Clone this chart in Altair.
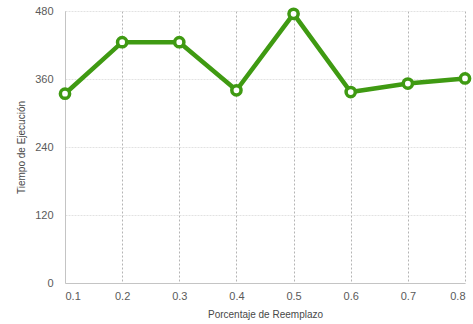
import altair as alt
import pandas as pd

porcentaje = [0.1, 0.2, 0.3, 0.4, 0.5, 0.6, 0.7, 0.8]
tiempo = [334, 425, 425, 340, 475, 337, 352, 361]

df = pd.DataFrame({"Porcentaje": porcentaje, "Tiempo": tiempo})

green = "#3f9a12"
font = "Liberation Sans"

x = alt.X(
    "Porcentaje:Q",
    scale=alt.Scale(domain=[0.1, 0.8], nice=False, zero=False),
    axis=alt.Axis(
        title="Porcentaje de Reemplazo",
        values=porcentaje,
        format=".1f",
        grid=True,
        gridDash=[2, 2],
        gridColor="#b4b4b4",
        gridWidth=1,
        ticks=False,
        domainColor="#c4c4c4",
        labelPadding=7,
        titlePadding=8,
    ),
)
y = alt.Y(
    "Tiempo:Q",
    scale=alt.Scale(domain=[0, 480], nice=False),
    axis=alt.Axis(
        title="Tiempo de Ejecución",
        values=[0, 120, 240, 360, 480],
        grid=True,
        gridDash=[2, 1],
        gridColor="#dadada",
        gridWidth=0.8,
        ticks=False,
        domainColor="#c4c4c4",
        labelPadding=12,
        titlePadding=8,
    ),
)

line = alt.Chart(df).mark_line(color=green, strokeWidth=4.5).encode(x=x, y=y)
pts = alt.Chart(df).mark_point(
    shape="circle", filled=True, fill="white", stroke=green, strokeWidth=3.5,
    size=85, opacity=1
).encode(x=x, y=y)

chart = (
    alt.layer(line, pts)
    .properties(
        width=400,
        height=272,
        padding={"left": 65, "top": 11, "right": 8, "bottom": 41},
        autosize=alt.AutoSizeParams(type="none"),
    )
    .configure_view(stroke=None)
    .configure_axis(
        labelFont=font,
        titleFont=font,
        labelFontSize=11,
        titleFontSize=10,
        labelColor="#5a5a5a",
        titleColor="#484848",
        titleFontWeight="normal",
    )
)

chart.save("out.html", embed_options={"renderer": "svg", "actions": False})
